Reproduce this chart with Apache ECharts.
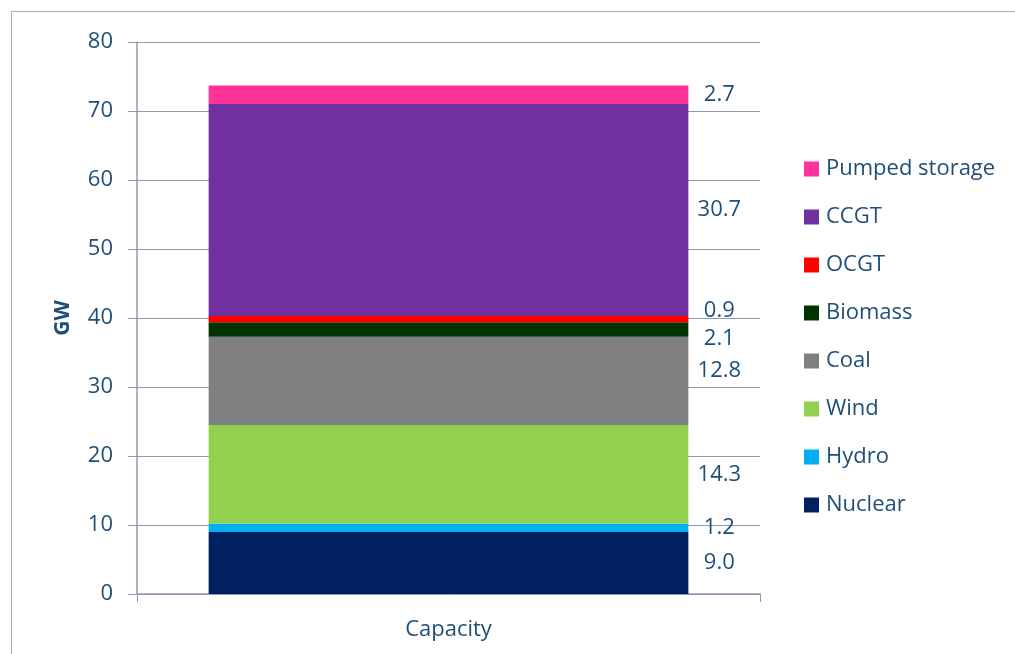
<!DOCTYPE html>
<html>
<head>
<meta charset="utf-8">
<script src="https://cdn.jsdelivr.net/npm/echarts@6/dist/echarts.min.js"></script>
<style>
  html, body { margin: 0; padding: 0; background: #fff; }
  #chart { width: 1015px; height: 654px; }
</style>
</head>
<body>
<div id="chart"></div>
<script>
// data
var categories = ["Capacity"];
var seriesNames = ["Nuclear", "Hydro", "Wind", "Coal", "Biomass", "OCGT", "CCGT", "Pumped storage"];
var seriesValues = [9.0, 1.2, 14.3, 12.8, 2.1, 0.9, 30.7, 2.7];
var yTicks = [0, 10, 20, 30, 40, 50, 60, 70, 80];

var colors = ["#002060", "#00B0F0", "#92D050", "#808080", "#003300", "#FF0000", "#7030A0", "#FF3399"];
// small nudges so labels don't overlap (like the original)
var labelNudge = [0, 0, 0, -10, 9, -8, 0, 0];

var textColor = "#1F4E79";
var lineColor = "#8E9AAF";
var font = "Open Sans";

var myChart = echarts.init(document.getElementById("chart"));

var series = seriesNames.map(function (name, i) {
  return {
    name: name,
    type: "bar",
    stack: "total",
    barWidth: "77%",
    itemStyle: { color: colors[i] },
    label: {
      show: true,
      position: ["105%", "50%"],
      offset: [7, labelNudge[i]],
      align: "center",
      verticalAlign: "middle",
      color: textColor,
      fontFamily: font,
      fontSize: 22,
      formatter: function (p) { return p.value.toFixed(1); }
    },
    data: [seriesValues[i]]
  };
});

var option = {
  animation: false,
  backgroundColor: "#fff",
  graphic: [{
    type: "rect",
    shape: { x: 11.5, y: 11.5, width: 1010, height: 660 },
    style: { fill: "none", stroke: "#A5ADBE", lineWidth: 1 },
    silent: true
  }],
  grid: { left: 137, right: 255, top: 42, bottom: 60 },
  legend: {
    orient: "vertical",
    left: 799,
    top: 153,
    itemWidth: 15,
    itemHeight: 15,
    itemGap: 26,
    icon: "rect",
    data: seriesNames.slice().reverse(),
    textStyle: { color: textColor, fontFamily: font, fontSize: 22, lineHeight: 22, padding: [0, 0, 0, 2] }
  },
  xAxis: {
    type: "category",
    data: categories,
    axisLine: { lineStyle: { color: lineColor, width: 1.5 } },
    axisTick: { show: true, length: 8, lineStyle: { color: lineColor } },
    axisLabel: { color: textColor, fontFamily: font, fontSize: 22, margin: 25 }
  },
  yAxis: {
    type: "value",
    min: yTicks[0],
    max: yTicks[yTicks.length - 1],
    interval: 10,
    name: "GW",
    nameLocation: "middle",
    nameGap: 63,
    nameTextStyle: { color: textColor, fontFamily: font, fontSize: 21, fontWeight: "bold" },
    axisLine: { show: true, lineStyle: { color: lineColor, width: 1.5 } },
    axisTick: { show: true, length: 9, lineStyle: { color: lineColor } },
    splitLine: { lineStyle: { color: lineColor } },
    axisLabel: { color: textColor, fontFamily: font, fontSize: 22, margin: 24 }
  },
  series: series
};

myChart.setOption(option);
</script>
</body>
</html>
